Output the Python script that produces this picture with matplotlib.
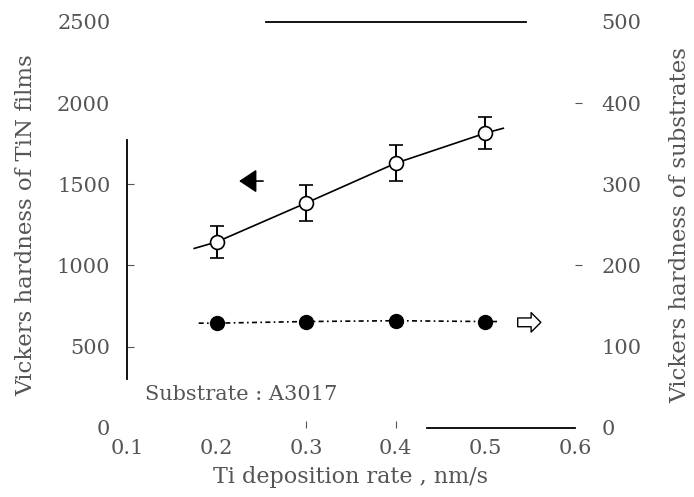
import matplotlib.pyplot as plt

plt.rcParams['font.family'] = ['DejaVu Serif']

# Ti deposition rate (nm/s)
rate = [0.2, 0.3, 0.4, 0.5]

# TiN film hardness (left axis) with error bars
tin_hv = [1145, 1385, 1630, 1815]
tin_err = [100, 112, 110, 100]
tin_line_x = [0.175, 0.2, 0.3, 0.4, 0.5, 0.52]
tin_line_y = [1105, 1145, 1385, 1630, 1815, 1845]

# substrate hardness (right axis)
sub_hv = [129, 131, 132, 131]
sub_line_x = [0.18, 0.2, 0.3, 0.4, 0.5, 0.515]
sub_line_y = [129, 129, 131, 132, 131, 131]

xticks = [0.1, 0.2, 0.3, 0.4, 0.5, 0.6]
xticklabels = ['0.1', '0.2', '0.3', '0.4', '0.5', '0.6']
left_ticks = [0, 500, 1000, 1500, 2000, 2500]
right_ticks = [0, 100, 200, 300, 400, 500]

txt = '#555555'

fig = plt.figure(figsize=(6.94, 4.97), dpi=100)
ax = fig.add_axes([0.183, 0.139, 0.6455, 0.817])
ax2 = ax.twinx()

ax.plot(tin_line_x, tin_line_y, color='black', lw=1.2)
ax.errorbar(rate, tin_hv, yerr=tin_err, fmt='o', mfc='white', mec='black',
            ms=10, mew=1.2, ecolor='black', elinewidth=1.4, capsize=5, capthick=1.4)

ax2.plot(sub_line_x, sub_line_y, color='black', lw=1.2, ls=(0, (3, 2, 1, 2)))
ax2.plot(rate, sub_hv, 'o', color='black', ms=10)

# direction arrows
ax.annotate('', xy=(0.222, 1520), xytext=(0.255, 1520),
            arrowprops=dict(arrowstyle='-|>,head_length=0.6,head_width=0.4',
                            color='black', lw=1.2, mutation_scale=18))
ax2.annotate('', xy=(0.565, 130), xytext=(0.533, 130),
             arrowprops=dict(arrowstyle='simple,head_width=1.0,tail_width=0.45',
                             fc='white', ec='black', lw=1.0, mutation_scale=14))

ax.set_xlim(0.1, 0.6)
ax.set_ylim(0, 2500)
ax2.set_ylim(0, 500)

ax.set_xticks(xticks)
ax.set_xticklabels(xticklabels)
ax.set_yticks(left_ticks)
ax2.set_yticks(right_ticks)

ax.tick_params(axis='x', direction='in', length=5, pad=8, labelsize=15, colors=txt)
ax.tick_params(axis='y', direction='in', length=5, pad=12, labelsize=15, colors=txt)
ax2.tick_params(axis='y', direction='out', length=5, pad=14, labelsize=15, colors=txt)

# show tick marks only where the scanned frame survives
x_keep = [0.3, 0.4]
for t, v in zip(ax.xaxis.get_major_ticks(), xticks):
    t.tick1line.set_visible(v in x_keep)
    t.tick1line.set_color('black')
left_keep = [500, 1000, 1500]
for t, v in zip(ax.yaxis.get_major_ticks(), left_ticks):
    t.tick1line.set_visible(v in left_keep)
    t.tick1line.set_color('black')
right_keep = [200, 400]
for t, v in zip(ax2.yaxis.get_major_ticks(), right_ticks):
    t.tick2line.set_visible(v in right_keep)
    t.tick2line.set_color('#333333')

# partial frame, as in the scan
ax.spines['right'].set_visible(False)
for s in ['left', 'top', 'bottom', 'right']:
    ax2.spines[s].set_visible(False)
ax.spines['left'].set_bounds(300, 1770)
ax.spines['top'].set_bounds(0.255, 0.545)
ax.spines['bottom'].set_bounds(0.435, 0.6)
for s in ['left', 'top', 'bottom']:
    ax.spines[s].set_linewidth(1.3)

ax.text(0.12, 205, 'Substrate : A3017', fontsize=15, color=txt, va='center')

ax.set_xlabel('Ti deposition rate , nm/s', fontsize=16, color=txt, labelpad=6)
ax.set_ylabel('Vickers hardness of TiN films', fontsize=16.5, color=txt, labelpad=14)
ax2.set_ylabel('Vickers hardness of substrates', fontsize=16.5, color=txt, labelpad=20)

fig.savefig('out.png', dpi=100)
